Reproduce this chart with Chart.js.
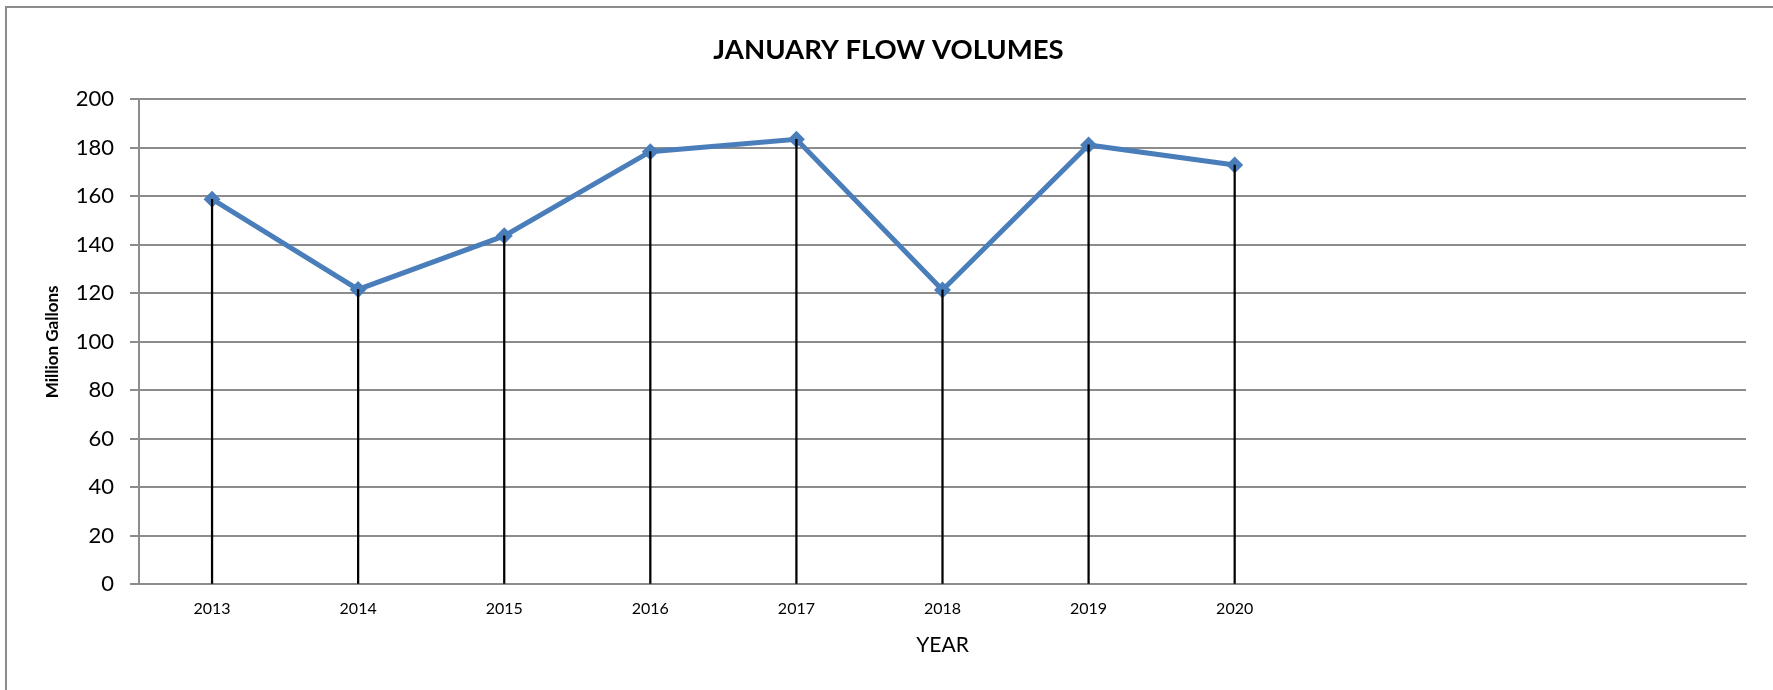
<!DOCTYPE html>
<html>
<head>
<meta charset="utf-8">
<script src="https://cdn.jsdelivr.net/npm/chart.js@4/dist/chart.umd.min.js"></script>
<style>
  html, body { margin: 0; padding: 0; background: #fff; }
  #wrap { position: relative; width: 1773px; height: 690px; overflow: hidden; }
  #frame { position: absolute; left: 5px; top: 6px; right: -10px; bottom: -10px;
           border-left: 2px solid #8c8c8c; border-top: 2px solid #8c8c8c; }
  canvas { position: absolute; left: 0; top: 0; }
</style>
</head>
<body>
<div id="wrap">
  <div id="frame"></div>
  <canvas id="c" width="1773" height="690"></canvas>
</div>
<script>
const chartTitle = 'JANUARY FLOW VOLUMES';
const yAxisTitle = 'Million Gallons';
const xAxisTitle = 'YEAR';
const years = ['2013', '2014', '2015', '2016', '2017', '2018', '2019', '2020', '', '', ''];
const flowVolumes = [158.8, 121.6, 143.7, 178.4, 183.5, 121.4, 181.2, 172.9];
const yMin = 0;
const yMax = 200;
const yStep = 20;

const titlePlugin = {
  id: 'excelTitle',
  afterDraw(chart) {
    const ctx = chart.ctx;
    ctx.save();
    ctx.font = 'bold 27.5px Lato';
    ctx.fillStyle = '#000';
    ctx.textAlign = 'center';
    ctx.textBaseline = 'middle';
    ctx.fillText(chartTitle, 888.5, 50);
    ctx.restore();
  }
};

new Chart(document.getElementById('c'), {
  data: {
    labels: years,
    datasets: [
      {
        type: 'bar',
        label: 'drop',
        data: flowVolumes,
        backgroundColor: '#000',
        borderWidth: 0,
        barThickness: 1.6
      },
      {
        type: 'line',
        label: 'Flow',
        data: flowVolumes,
        borderColor: '#4a7ebb',
        backgroundColor: '#4a7ebb',
        borderWidth: 5,
        pointStyle: 'rectRot',
        pointRadius: 8.5,
        pointBorderWidth: 0,
        pointBackgroundColor: '#4a7ebb',
        tension: 0,
        fill: false
      }
    ]
  },
  options: {
    responsive: false,
    animation: false,
    events: [],
    layout: { padding: { top: 99.3, right: 27, bottom: 0, left: 0 } },
    plugins: {
      legend: { display: false },
      title: { display: false },
      tooltip: { enabled: false }
    },
    scales: {
      x: {
        type: 'category',
        offset: true,
        grid: { display: false, drawTicks: false },
        border: { display: true, color: '#8c8c8c', width: 2 },
        ticks: {
          color: '#000',
          font: { family: 'Lato', size: 16 },
          padding: 15,
          maxRotation: 0,
          autoSkip: false
        },
        title: {
          display: true,
          text: xAxisTitle,
          color: '#000',
          font: { family: 'Lato', size: 21 },
          padding: { top: 0, bottom: 32 }
        },
        afterFit(scale) { scale.height = 105.6; }
      },
      y: {
        min: yMin,
        max: yMax,
        grid: {
          color: '#8c8c8c',
          lineWidth: 2,
          drawTicks: true,
          tickLength: 9,
          tickColor: '#8c8c8c'
        },
        border: { display: true, color: '#8c8c8c', width: 2 },
        ticks: {
          stepSize: yStep,
          color: '#000',
          font: { family: 'Lato', size: 22 },
          padding: 16
        },
        title: {
          display: true,
          text: yAxisTitle,
          color: '#000',
          font: { family: 'Lato', size: 17, weight: 'bold' },
          padding: { top: 42.8, bottom: 0 }
        },
        afterFit(scale) { scale.width = 139; }
      }
    }
  },
  plugins: [titlePlugin]
});
</script>
</body>
</html>
